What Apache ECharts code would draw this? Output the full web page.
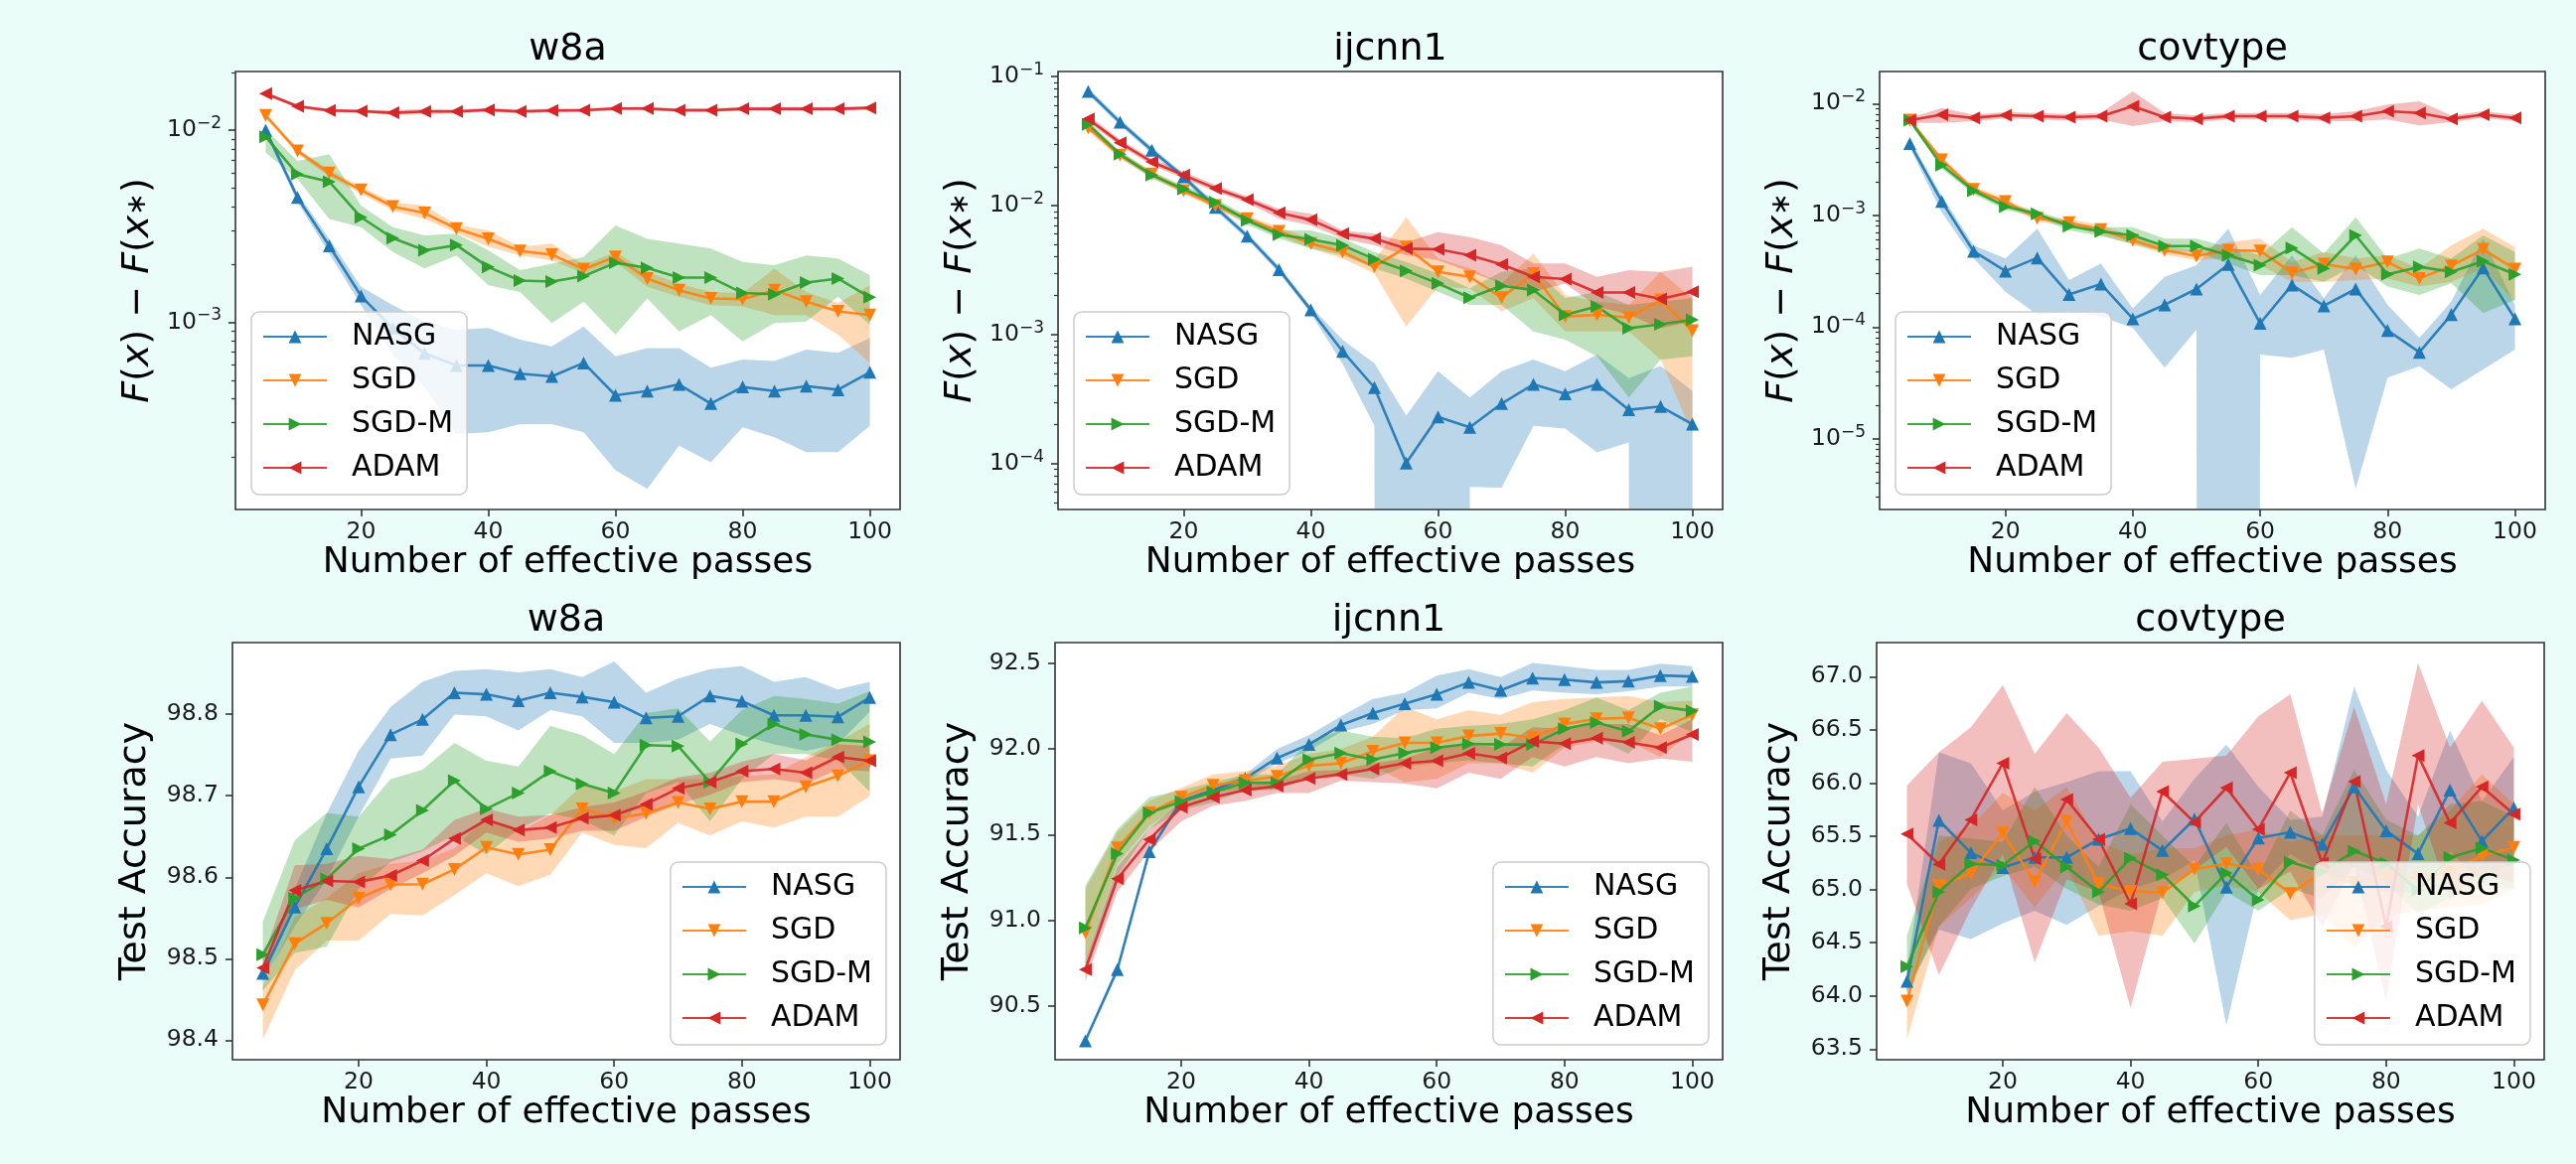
<!DOCTYPE html>
<html><head><meta charset="utf-8">
<script src="https://cdn.jsdelivr.net/npm/echarts@6/dist/echarts.min.js"></script>
<style>html,body{margin:0;padding:0;background:#eafdf8;}#c{width:2593px;height:1172px;}</style>
</head><body><div id="c"></div>
<script>
// ---------------- DATA ----------------
const passes = [5,10,15,20,25,30,35,40,45,50,55,60,65,70,75,80,85,90,95,100];
const methods = ['NASG','SGD','SGD-M','ADAM'];
const xTicks = [20,40,60,80,100];

// tick values (log panels: exponents of 10)
const w8aLossTicks = [-3,-2];
const ijcnn1LossTicks = [-4,-3,-2,-1];
const covtypeLossTicks = [-5,-4,-3,-2];
const w8aAccTicks = [98.4,98.5,98.6,98.7,98.8];
const ijcnn1AccTicks = [90.5,91.0,91.5,92.0,92.5];
const covtypeAccTicks = [63.5,64.0,64.5,65.0,65.5,66.0,66.5,67.0];

// ---- w8a: F(x)-F(x*) ----
const w8aLoss_NASG    = [0.0100,0.00447,0.0025,0.00137,0.00093,0.00069,0.000596,0.000596,0.00054,0.000523,0.000615,0.000417,0.000439,0.000475,0.000378,0.000461,0.000439,0.000466,0.000446,0.00055];
const w8aLoss_NASG_lo = [0.0096,0.00421,0.00228,0.00123,0.00068,0.000457,0.000262,0.000268,0.000295,0.000295,0.000268,0.00017,0.000136,0.000228,0.000187,0.000284,0.000252,0.000211,0.000211,0.000289];
const w8aLoss_NASG_hi = [0.0104,0.00471,0.00272,0.00153,0.00123,0.00101,0.000915,0.000933,0.000812,0.00075,0.000952,0.000666,0.000735,0.000735,0.00058,0.00064,0.000628,0.000721,0.000693,0.000829];
const w8aLoss_SGD     = [0.01191,0.0078,0.00597,0.00488,0.0040,0.0037,0.00307,0.00272,0.00235,0.00225,0.00189,0.00219,0.00169,0.00147,0.00133,0.00132,0.00147,0.00128,0.00114,0.00109];
const w8aLoss_SGD_lo  = [0.01163,0.00749,0.00574,0.00465,0.00382,0.00345,0.00292,0.00247,0.00223,0.0021,0.0018,0.00206,0.00153,0.00136,0.00123,0.00121,0.00109,0.00109,0.000862,0.000615];
const w8aLoss_SGD_hi  = [0.0122,0.0080,0.00621,0.00508,0.00421,0.00405,0.00322,0.00301,0.00247,0.00257,0.00198,0.00232,0.00183,0.00159,0.00144,0.00142,0.0019,0.00144,0.00126,0.00156];
const w8aLoss_SGDM    = [0.00924,0.0059,0.00539,0.00352,0.00274,0.00237,0.00252,0.00194,0.00165,0.00163,0.00174,0.00204,0.00192,0.00171,0.00171,0.00142,0.0014,0.00161,0.00169,0.00135];
const w8aLoss_SGDM_lo = [0.00764,0.00556,0.00345,0.00313,0.00232,0.00191,0.00223,0.00156,0.00144,0.00099,0.00128,0.000862,0.00133,0.000897,0.00109,0.000796,0.00099,0.00101,0.00136,0.00097];
const w8aLoss_SGDM_hi = [0.01008,0.00692,0.00749,0.00405,0.00313,0.00283,0.00289,0.00237,0.00187,0.00202,0.00219,0.00319,0.00272,0.00257,0.00242,0.00206,0.00198,0.00223,0.00215,0.00176];
const w8aLoss_ADAM    = [0.0155,0.0133,0.01265,0.01254,0.0123,0.0125,0.0125,0.01274,0.0125,0.01265,0.0127,0.01295,0.01295,0.0127,0.0127,0.0129,0.0129,0.0129,0.0129,0.01305];
const w8aLoss_ADAM_lo = [0.0152,0.0130,0.0124,0.0123,0.0120,0.0121,0.0122,0.0125,0.0122,0.0124,0.0124,0.0127,0.0127,0.0124,0.0124,0.0126,0.0126,0.0126,0.0126,0.0128];
const w8aLoss_ADAM_hi = [0.0158,0.0136,0.0129,0.0128,0.0127,0.0129,0.0128,0.0130,0.0128,0.0129,0.0130,0.0132,0.0132,0.0130,0.0130,0.0132,0.0132,0.0132,0.0132,0.0133];

// ---- ijcnn1: F(x)-F(x*) ----
const ijcnn1Loss_NASG    = [0.0767,0.0442,0.0268,0.0167,0.0097,0.0058,0.00319,0.00155,0.000742,0.000388,0.0001007,0.00023,0.000191,0.000292,0.000411,0.000348,0.000411,0.000261,0.000277,0.000202];
const ijcnn1Loss_NASG_lo = [0.0723,0.0417,0.0252,0.0157,0.00914,0.00547,0.00301,0.00146,0.00059,0.000196,0,0,0.000066,0.000065,0.000196,0.000187,0.000122,0.000146,0,0];
const ijcnn1Loss_NASG_hi = [0.0813,0.0469,0.0284,0.0177,0.01028,0.00615,0.00338,0.00165,0.00091,0.0006,0.000235,0.00052,0.000325,0.00052,0.00064,0.00052,0.0007,0.00046,0.00057,0.000365];
const ijcnn1Loss_SGD     = [0.0400,0.0245,0.0175,0.01302,0.00999,0.00788,0.0063,0.00506,0.00437,0.00335,0.00477,0.00306,0.0028,0.00193,0.00297,0.00138,0.00142,0.001356,0.00185,0.00107];
const ijcnn1Loss_SGD_lo  = [0.0377,0.0231,0.0165,0.01228,0.00941,0.00743,0.00587,0.00463,0.00388,0.00297,0.001156,0.00235,0.00228,0.00151,0.00191,0.001058,0.001058,0.001058,0.00064,0.00017];
const ijcnn1Loss_SGD_hi  = [0.0425,0.026,0.01857,0.01382,0.01059,0.00836,0.0068,0.00553,0.00477,0.00377,0.00812,0.00388,0.00325,0.00249,0.00424,0.00203,0.0018,0.0017,0.00306,0.00191];
const ijcnn1Loss_SGDM    = [0.0425,0.02495,0.01719,0.01341,0.01059,0.00766,0.00594,0.00547,0.00491,0.00384,0.00312,0.00249,0.00193,0.00239,0.00221,0.00142,0.00165,0.00112,0.0012,0.0013];
const ijcnn1Loss_SGDM_lo = [0.04,0.0235,0.0162,0.01265,0.00987,0.00709,0.00553,0.00463,0.00412,0.00325,0.00272,0.00215,0.0017,0.0017,0.001058,0.000912,0.000679,0.000325,0.00064,0.000679];
const ijcnn1Loss_SGDM_hi = [0.045,0.02647,0.01824,0.01423,0.01137,0.00826,0.00641,0.00641,0.00553,0.00437,0.00366,0.00297,0.00228,0.00306,0.00325,0.00191,0.00215,0.0017,0.0018,0.00191];
const ijcnn1Loss_ADAM    = [0.0469,0.0307,0.02178,0.01719,0.01358,0.0111,0.00877,0.00774,0.00604,0.00553,0.00463,0.00458,0.00412,0.00349,0.0028,0.00269,0.00212,0.00212,0.00189,0.00215];
const ijcnn1Loss_ADAM_lo = [0.0443,0.02893,0.0205,0.0162,0.0128,0.01047,0.00788,0.007,0.00553,0.00491,0.00412,0.00377,0.00306,0.00249,0.00215,0.00248,0.00165,0.00142,0.00112,0.00126];
const ijcnn1Loss_ADAM_hi = [0.0498,0.03255,0.0231,0.01824,0.0144,0.01178,0.00941,0.00861,0.00641,0.00604,0.00521,0.00622,0.0057,0.00491,0.00355,0.00355,0.0028,0.00315,0.00306,0.00335];

// ---- covtype: F(x)-F(x*) ----
const covtypeLoss_NASG    = [0.0044,0.001335,0.000477,0.000317,0.000416,0.000196,0.000243,0.0001185,0.000158,0.000219,0.000363,0.000108,0.000238,0.000155,0.000219,0.0000933,0.0000595,0.000129,0.000339,0.0001185];
const covtypeLoss_NASG_lo = [0.00403,0.001066,0.00041,0.000207,0.000129,0.000138,0.000124,0.000098,0.0000432,0.0000946,0,0.0000567,0.000053,0.0000628,0.00000358,0.0000352,0.0000447,0.0000277,0.0000417,0.0000628];
const covtypeLoss_NASG_hi = [0.00478,0.0015,0.000539,0.00041,0.000758,0.000263,0.00037,0.000147,0.000282,0.000358,0.000758,0.000194,0.000439,0.000181,0.000439,0.000158,0.0000798,0.000169,0.000618,0.000158];
const covtypeLoss_SGD     = [0.0071,0.00313,0.0017,0.001327,0.000943,0.000857,0.000743,0.000597,0.000486,0.000433,0.000486,0.00048,0.000306,0.000365,0.00033,0.000383,0.000272,0.000353,0.000496,0.00033];
const covtypeLoss_SGD_lo  = [0.00673,0.00293,0.00158,0.00124,0.00088,0.0008,0.00067,0.000546,0.000445,0.000396,0.00041,0.000358,0.000254,0.000254,0.000263,0.000272,0.00023,0.000254,0.000334,0.000169];
const covtypeLoss_SGD_hi  = [0.00745,0.00335,0.00181,0.00142,0.00101,0.000918,0.000823,0.000652,0.000531,0.000486,0.000577,0.000618,0.000383,0.00047,0.00041,0.000439,0.000334,0.000539,0.000758,0.000521];
const covtypeLoss_SGDM    = [0.0071,0.00281,0.00166,0.0012,0.00103,0.0008,0.000718,0.000661,0.000531,0.000531,0.000439,0.000358,0.00051,0.000334,0.000661,0.000296,0.000346,0.000312,0.000388,0.000296];
const covtypeLoss_SGDM_lo = [0.00673,0.00262,0.00155,0.00112,0.000962,0.000732,0.000652,0.000557,0.00047,0.00047,0.00037,0.000291,0.000291,0.000254,0.000358,0.00023,0.000194,0.000246,0.000133,0.000175];
const covtypeLoss_SGDM_hi = [0.00745,0.00301,0.00178,0.00128,0.0011,0.000868,0.000784,0.000784,0.000618,0.000618,0.000521,0.000439,0.000784,0.000454,0.000962,0.00041,0.000503,0.00041,0.000661,0.00047];
const covtypeLoss_ADAM    = [0.0071,0.00794,0.00745,0.00787,0.00771,0.00755,0.00771,0.00946,0.00755,0.0073,0.00771,0.00771,0.00771,0.00745,0.00771,0.00854,0.00825,0.0073,0.00794,0.00745];
const covtypeLoss_ADAM_lo = [0.00673,0.00673,0.00696,0.00735,0.0072,0.00706,0.0072,0.00628,0.00696,0.00682,0.0072,0.0072,0.0072,0.00696,0.00696,0.0072,0.00637,0.00682,0.00745,0.00696];
const covtypeLoss_ADAM_hi = [0.00745,0.00914,0.00794,0.00842,0.00825,0.00809,0.00825,0.01285,0.00825,0.00781,0.00825,0.00825,0.00825,0.00809,0.00854,0.00979,0.01048,0.00781,0.00854,0.00794];

// ---- w8a: Test Accuracy ----
const w8aAcc_NASG    = [98.482,98.5635,98.635,98.711,98.775,98.7937,98.8264,98.8245,98.8168,98.8264,98.8214,98.8149,98.7956,98.7975,98.8226,98.816,98.7987,98.7987,98.7968,98.8206];
const w8aAcc_NASG_lo = [98.4722,98.5396,98.5973,98.6743,98.7456,98.7494,98.7995,98.7975,98.7802,98.8052,98.7975,98.7648,98.7648,98.7687,98.7879,98.7744,98.7629,98.7552,98.7629,98.8033];
const w8aAcc_NASG_hi = [98.4895,98.5858,98.6782,98.7552,98.8091,98.8399,98.8533,98.8553,98.8514,98.8553,98.8457,98.8649,98.8264,98.8437,98.8553,98.8591,98.8399,98.8457,98.8303,98.8399];
const w8aAcc_SGD     = [98.4433,98.5184,98.5434,98.5742,98.5908,98.5915,98.6096,98.6366,98.6281,98.6339,98.6839,98.6724,98.6782,98.6917,98.6839,98.6928,98.6928,98.7109,98.7244,98.7429];
const w8aAcc_SGD_lo  = [98.401,98.4857,98.5223,98.5223,98.555,98.5531,98.5781,98.605,98.5889,98.6031,98.655,98.6397,98.6358,98.6666,98.6512,98.6686,98.6609,98.6743,98.6743,98.6994];
const w8aAcc_SGD_hi  = [98.4664,98.5511,98.5742,98.605,98.6166,98.6204,98.6358,98.6743,98.655,98.6762,98.7128,98.7051,98.7205,98.7205,98.7205,98.7244,98.7263,98.7475,98.7667,98.7879];
const w8aAcc_SGDM    = [98.5049,98.5742,98.598,98.635,98.652,98.682,98.7186,98.6839,98.7032,98.7302,98.7147,98.7032,98.7621,98.761,98.7167,98.7636,98.7879,98.7752,98.7687,98.766];
const w8aAcc_SGDM_lo = [98.4607,98.5069,98.5146,98.5858,98.6185,98.632,98.6512,98.6281,98.6589,98.6782,98.6705,98.6512,98.7032,98.7167,98.6686,98.7205,98.7513,98.7513,98.7436,98.7051];
const w8aAcc_SGDM_hi = [98.5454,98.6455,98.679,98.6743,98.7205,98.7321,98.7648,98.7429,98.7359,98.786,98.7744,98.7513,98.8014,98.8071,98.7667,98.8052,98.8226,98.8187,98.8129,98.8283];
const w8aAcc_ADAM    = [98.4888,98.5838,98.5954,98.5942,98.602,98.6204,98.6474,98.6705,98.6578,98.6609,98.6724,98.6762,98.6897,98.709,98.7167,98.7302,98.7329,98.7283,98.7475,98.7429];
const w8aAcc_ADAM_lo = [98.475,98.5608,98.5723,98.5627,98.5858,98.605,98.6262,98.655,98.6435,98.6474,98.657,98.657,98.6743,98.6897,98.7013,98.7167,98.7205,98.7148,98.7321,98.7302];
const w8aAcc_ADAM_hi = [98.500,98.6147,98.6166,98.6262,98.6224,98.6339,98.6705,98.684,98.6743,98.6762,98.6859,98.6917,98.7051,98.7225,98.7283,98.7417,98.7513,98.7436,98.7629,98.761];

// ---- ijcnn1: Test Accuracy ----
const ijcnn1Acc_NASG    = [90.294,90.7102,91.3994,91.6963,91.7605,91.8283,91.9475,92.0263,92.1399,92.2096,92.2646,92.3196,92.3892,92.3434,92.4149,92.4057,92.3892,92.3965,92.4295,92.424];
const ijcnn1Acc_NASG_lo = [90.2794,90.6955,91.3847,91.6817,91.7422,91.8063,91.9163,91.9896,92.0996,92.1454,92.2279,92.2371,92.3287,92.2921,92.3416,92.3287,92.3196,92.3379,92.3654,92.3654];
const ijcnn1Acc_NASG_hi = [90.3087,90.7248,91.414,91.711,91.7788,91.8521,91.9988,92.0813,92.1912,92.2921,92.3287,92.4295,92.4662,92.4204,92.5029,92.4845,92.4625,92.4625,92.4992,92.4845];
const ijcnn1Acc_SGD     = [90.9265,91.4214,91.6267,91.7183,91.788,91.8155,91.8393,91.9016,91.9163,91.986,92.0354,92.0354,92.0758,92.0904,92.0666,92.1454,92.1766,92.1821,92.1179,92.2004];
const ijcnn1Acc_SGD_lo  = [90.7615,91.3297,91.5497,91.678,91.7422,91.7697,91.7788,91.8247,91.843,91.898,91.8063,91.8247,91.9163,91.9163,91.8613,92.008,92.0446,92.0446,91.953,92.0996];
const ijcnn1Acc_SGD_hi  = [91.1831,91.513,91.6963,91.7733,91.8521,91.8705,91.9016,91.9713,91.9988,92.0721,92.2462,92.1729,92.2279,92.2004,92.2737,92.292,92.3012,92.3104,92.2737,92.2829];
const ijcnn1Acc_SGDM    = [90.954,91.3884,91.6267,91.6927,91.7477,91.8027,91.8027,91.9383,91.9768,91.9383,91.9768,92.008,92.03,92.0263,92.0263,92.1179,92.1546,92.1033,92.2499,92.2224];
const ijcnn1Acc_SGDM_lo = [90.7065,91.2564,91.5314,91.6413,91.6872,91.7605,91.7605,91.843,91.8521,91.8247,91.898,91.9163,91.9347,91.9163,91.898,92.0263,92.0629,91.9713,92.1729,92.0996];
const ijcnn1Acc_SGDM_hi = [91.2015,91.5314,91.7183,91.7605,91.8063,91.8521,91.8521,92.0446,92.1088,92.0721,92.0629,92.1179,92.1363,92.1454,92.1729,92.2279,92.3012,92.2279,92.3287,92.3654];
const ijcnn1Acc_ADAM    = [90.7102,91.2417,91.4709,91.6597,91.7183,91.7605,91.7825,91.8283,91.8521,91.8833,91.9163,91.931,91.975,91.9475,92.0446,92.0318,92.063,92.0391,92.008,92.085];
const ijcnn1Acc_ADAM_lo = [90.6424,91.1648,91.403,91.5772,91.6688,91.6963,91.7422,91.7422,91.8155,91.8063,91.7972,91.7697,91.8613,91.8247,91.953,91.898,91.953,91.9163,91.9438,91.9255];
const ijcnn1Acc_ADAM_hi = [90.7615,91.3114,91.5314,91.6963,91.7513,91.788,91.8155,91.8705,91.8796,91.9163,91.9438,92.008,92.0263,92.008,92.1271,92.1179,92.1454,92.1454,92.0813,92.1729];

// ---- covtype: Test Accuracy ----
const covtypeAcc_NASG    = [64.137,65.649,65.345,65.207,65.301,65.301,65.472,65.572,65.366,65.661,65.021,65.484,65.537,65.425,65.964,65.552,65.336,65.935,65.454,65.767];
const covtypeAcc_NASG_lo = [64.034,64.623,64.535,64.682,64.8,64.667,64.844,65.006,65.095,65.272,63.724,65.006,65.331,65.154,65.021,64.977,64.977,65.36,65.065,65.272];
const covtypeAcc_NASG_hi = [64.24,66.288,66.185,65.743,65.92,66.008,66.112,66.112,65.64,66.038,66.362,65.964,65.655,65.684,66.907,66.126,65.684,66.495,65.832,66.244];
const covtypeAcc_SGD     = [63.951,65.036,65.148,65.531,65.071,65.64,65.051,64.983,64.971,65.189,65.242,65.189,64.962,65.16,65.065,65.124,65.109,65.168,65.316,65.395];
const covtypeAcc_SGD_lo  = [63.592,64.653,64.918,65.213,64.83,65.213,64.564,64.608,64.564,64.977,65.036,64.977,64.712,64.77,64.446,64.741,64.8,64.83,64.859,65.006];
const covtypeAcc_SGD_hi  = [64.24,65.448,65.596,65.905,65.743,65.964,65.448,65.33,65.389,65.389,65.507,65.566,65.448,65.507,65.507,65.507,65.507,65.743,66.082,65.802];
const covtypeAcc_SGDM    = [64.275,64.977,65.242,65.227,65.454,65.213,64.977,65.295,65.139,64.844,65.154,64.903,65.257,65.168,65.36,65.248,64.992,65.301,65.389,65.277];
const covtypeAcc_SGDM_lo = [64.034,64.653,65.006,65.124,65.213,65.006,64.859,64.8,64.918,64.491,64.977,64.8,65.006,64.918,65.213,65.065,64.77,64.918,65.036,65.006];
const covtypeAcc_SGDM_hi = [64.564,65.507,65.478,65.448,65.964,65.507,65.213,65.802,65.507,65.213,65.625,65.124,65.743,65.507,66.126,65.655,65.507,65.802,65.832,65.684];
const covtypeAcc_ADAM    = [65.522,65.236,65.655,66.185,65.287,65.846,65.472,64.865,65.92,65.631,65.955,65.566,66.097,65.248,66.014,64.653,66.259,65.625,65.964,65.708];
const covtypeAcc_ADAM_lo = [65.051,64.196,64.815,65.33,64.314,65.095,64.977,63.886,65.006,65.183,65.4,65.006,65.168,64.653,65.242,63.945,65.802,64.918,65.154,65.065];
const covtypeAcc_ADAM_hi = [65.979,66.288,66.524,66.922,66.274,66.657,66.333,65.861,66.2,66.229,66.259,66.627,66.834,65.714,66.716,65.802,67.128,66.333,66.775,66.333];

// ---------------- LAYOUT / STYLE ----------------
const colors = {'NASG':'#1f77b4','SGD':'#ff7f0e','SGD-M':'#2ca02c','ADAM':'#d62728'};
const rotations = {'NASG':0,'SGD':180,'SGD-M':-90,'ADAM':90};
const FONT = 'DejaVu Sans';
const INK = '#1a1a1a';
const AXC = '#333333';
const W = 2593, H = 1172;

const panels = [
  {title:'w8a', left:237, top:72, width:669, height:441, log:true, lo:-3.974, hi:-1.695, ticks:w8aLossTicks, legend:'ll',
   d:{'NASG':[w8aLoss_NASG,w8aLoss_NASG_lo,w8aLoss_NASG_hi],'SGD':[w8aLoss_SGD,w8aLoss_SGD_lo,w8aLoss_SGD_hi],'SGD-M':[w8aLoss_SGDM,w8aLoss_SGDM_lo,w8aLoss_SGDM_hi],'ADAM':[w8aLoss_ADAM,w8aLoss_ADAM_lo,w8aLoss_ADAM_hi]}},
  {title:'ijcnn1', left:1065, top:72, width:669, height:441, log:true, lo:-4.356, hi:-0.9615, ticks:ijcnn1LossTicks, legend:'ll',
   d:{'NASG':[ijcnn1Loss_NASG,ijcnn1Loss_NASG_lo,ijcnn1Loss_NASG_hi],'SGD':[ijcnn1Loss_SGD,ijcnn1Loss_SGD_lo,ijcnn1Loss_SGD_hi],'SGD-M':[ijcnn1Loss_SGDM,ijcnn1Loss_SGDM_lo,ijcnn1Loss_SGDM_hi],'ADAM':[ijcnn1Loss_ADAM,ijcnn1Loss_ADAM_lo,ijcnn1Loss_ADAM_hi]}},
  {title:'covtype', left:1892, top:72, width:670, height:441, log:true, lo:-5.633, hi:-1.713, ticks:covtypeLossTicks, legend:'ll',
   d:{'NASG':[covtypeLoss_NASG,covtypeLoss_NASG_lo,covtypeLoss_NASG_hi],'SGD':[covtypeLoss_SGD,covtypeLoss_SGD_lo,covtypeLoss_SGD_hi],'SGD-M':[covtypeLoss_SGDM,covtypeLoss_SGDM_lo,covtypeLoss_SGDM_hi],'ADAM':[covtypeLoss_ADAM,covtypeLoss_ADAM_lo,covtypeLoss_ADAM_hi]}},
  {title:'w8a', left:234, top:647, width:672, height:420, log:false, lo:98.376, hi:98.888, ticks:w8aAccTicks, legend:'lr',
   d:{'NASG':[w8aAcc_NASG,w8aAcc_NASG_lo,w8aAcc_NASG_hi],'SGD':[w8aAcc_SGD,w8aAcc_SGD_lo,w8aAcc_SGD_hi],'SGD-M':[w8aAcc_SGDM,w8aAcc_SGDM_lo,w8aAcc_SGDM_hi],'ADAM':[w8aAcc_ADAM,w8aAcc_ADAM_lo,w8aAcc_ADAM_hi]}},
  {title:'ijcnn1', left:1062, top:647, width:672, height:420, log:false, lo:90.184, hi:92.622, ticks:ijcnn1AccTicks, legend:'lr',
   d:{'NASG':[ijcnn1Acc_NASG,ijcnn1Acc_NASG_lo,ijcnn1Acc_NASG_hi],'SGD':[ijcnn1Acc_SGD,ijcnn1Acc_SGD_lo,ijcnn1Acc_SGD_hi],'SGD-M':[ijcnn1Acc_SGDM,ijcnn1Acc_SGDM_lo,ijcnn1Acc_SGDM_hi],'ADAM':[ijcnn1Acc_ADAM,ijcnn1Acc_ADAM_lo,ijcnn1Acc_ADAM_hi]}},
  {title:'covtype', left:1889, top:647, width:672, height:420, log:false, lo:63.40, hi:67.32, ticks:covtypeAccTicks, legend:'lr',
   d:{'NASG':[covtypeAcc_NASG,covtypeAcc_NASG_lo,covtypeAcc_NASG_hi],'SGD':[covtypeAcc_SGD,covtypeAcc_SGD_lo,covtypeAcc_SGD_hi],'SGD-M':[covtypeAcc_SGDM,covtypeAcc_SGDM_lo,covtypeAcc_SGDM_hi],'ADAM':[covtypeAcc_ADAM,covtypeAcc_ADAM_lo,covtypeAcc_ADAM_hi]}}
];

function rgba(hex, a){
  const n = parseInt(hex.slice(1),16);
  return 'rgba(' + ((n>>16)&255) + ',' + ((n>>8)&255) + ',' + (n&255) + ',' + a + ')';
}
// minor tick positions (exponents) for log decorations
function minorExps(lo, hi){
  const out = [];
  for (let e = Math.floor(lo); e <= Math.ceil(hi); e++) {
    for (let k = 2; k <= 9; k++) { const v = e + Math.log10(k); if (v > lo && v < hi) out.push(v); }
  }
  return out;
}

const lossName = '{i|F}{n|(}{i|x}{n|) − }{i|F}{n|(}{i|x}{s|∗}{n|)}';
const lossRich = {
  i:{fontSize:38, fontFamily:FONT, fontStyle:'italic', color:'#000', lineHeight:46},
  n:{fontSize:38, fontFamily:FONT, color:'#000', lineHeight:46},
  s:{fontSize:27, fontFamily:FONT, color:'#000', lineHeight:46}
};

const grids=[], xAxes=[], yAxes=[], series=[], legends=[], texts=[];

panels.forEach((p, gi) => {
  grids.push({left:p.left, top:p.top, width:p.width, height:p.height, show:true,
    backgroundColor:'#ffffff', borderColor:AXC, borderWidth:1.6, containLabel:false, outerBoundsMode:'none'});

  xAxes.push({type:'value', gridIndex:gi, min:0.25, max:104.75,
    splitLine:{show:false}, axisLine:{show:false},
    axisTick:{show:true, length:7, lineStyle:{color:AXC, width:1.6}, customValues:xTicks},
    axisLabel:{customValues:xTicks, fontSize:23.5, fontFamily:FONT, color:INK, margin:11},
    name:'Number of effective passes', nameLocation:'middle', nameGap:36,
    nameTextStyle:{fontSize:36, fontFamily:FONT, color:'#000'}});

  let dataAxis;
  if (p.log) {
    dataAxis = yAxes.length;
    yAxes.push({type:'log', logBase:10, gridIndex:gi, position:'left',
      min:Math.pow(10,p.lo), max:Math.pow(10,p.hi),
      axisLine:{show:false}, axisTick:{show:false}, axisLabel:{show:false}, splitLine:{show:false},
      name:lossName, nameLocation:'middle', nameGap:75, nameRotate:90,
      nameTextStyle:{rich:lossRich}});
    // major ticks + labels (exponent scale, same pixel span)
    yAxes.push({type:'value', gridIndex:gi, position:'left', min:p.lo, max:p.hi,
      axisLine:{show:false}, splitLine:{show:false},
      axisTick:{show:true, length:7, lineStyle:{color:AXC, width:1.6}, customValues:p.ticks},
      axisLabel:{customValues:p.ticks, margin:14,
        formatter:v => '{b|10}{s|−' + Math.round(Math.abs(v)) + '}',
        rich:{b:{fontSize:23.5, fontFamily:FONT, color:INK, lineHeight:30},
              s:{fontSize:17, fontFamily:FONT, color:INK, lineHeight:17, verticalAlign:'top'}}}});
    // minor ticks
    const mins = minorExps(p.lo, p.hi);
    yAxes.push({type:'value', gridIndex:gi, position:'left', min:p.lo, max:p.hi,
      axisLine:{show:false}, splitLine:{show:false},
      axisTick:{show:true, length:4, lineStyle:{color:AXC, width:1.2}, customValues:mins},
      axisLabel:{show:false, customValues:mins}});
  } else {
    dataAxis = yAxes.length;
    yAxes.push({type:'value', gridIndex:gi, position:'left', min:p.lo, max:p.hi,
      axisLine:{show:false}, splitLine:{show:false},
      axisTick:{show:true, length:7, lineStyle:{color:AXC, width:1.6}, customValues:p.ticks},
      axisLabel:{customValues:p.ticks, margin:14, fontSize:23.5, fontFamily:FONT, color:INK,
        formatter:v => v.toFixed(1)},
      name:'Test Accuracy', nameLocation:'middle', nameGap:79, nameRotate:90,
      nameTextStyle:{fontSize:38, fontFamily:FONT, color:'#000'}});
  }

  // shaded bands (drawn below all lines)
  methods.forEach(m => {
    const lo = p.d[m][1], hi = p.d[m][2], col = colors[m], isLog = p.log;
    series.push({type:'custom', name:m + ' band', xAxisIndex:gi, yAxisIndex:dataAxis, z:1, silent:true, clip:true,
      animation:false,
      data:passes.map((x,j) => [x, lo[j], hi[j]]),
      renderItem:(params, api) => {
        if (params.dataIndex !== 0) return null;
        const cs = params.coordSys;
        const pt = (x, v) => {
          if (isLog && !(v > 0)) { const q = api.coord([x, hi[0]]); return [q[0], cs.y + cs.height + 20000]; }
          return api.coord([x, v]);
        };
        const up = passes.map((x,j) => pt(x, hi[j]));
        const dn = passes.map((x,j) => pt(x, lo[j])).reverse();
        return {type:'polygon', shape:{points:up.concat(dn)}, style:{fill:rgba(col,0.3)}};
      }});
  });
  // mean lines with triangle markers
  methods.forEach(m => {
    const mean = p.d[m][0], col = colors[m];
    series.push({type:'line', name:m, xAxisIndex:gi, yAxisIndex:dataAxis, z:2,
      data:passes.map((x,j) => [x, mean[j]]),
      symbol:'triangle', symbolSize:13, symbolRotate:rotations[m], showSymbol:true,
      lineStyle:{color:col, width:2.6, opacity:0.9}, itemStyle:{color:col},
      emphasis:{disabled:true}, animation:false});
  });

  const lg = {orient:'vertical', data:methods, selectedMode:false,
    itemWidth:64, itemHeight:16, itemGap:14, padding:[10,14,12,11],
    backgroundColor:'rgba(255,255,255,0.8)', borderColor:'#cccccc', borderWidth:1.5, borderRadius:8,
    textStyle:{fontSize:30, fontFamily:FONT, color:'#000', padding:[0,0,0,20]}};
  if (p.legend === 'll') { lg.left = p.left + 16; lg.bottom = H - (p.top + p.height - 15); }
  else { lg.right = W - (p.left + p.width - 14); lg.bottom = H - (p.top + p.height - 15); }
  legends.push(lg);

  texts.push({type:'text', x:p.left + p.width/2, y:p.top - 3, silent:true,
    style:{text:p.title, fontSize:38, fontFamily:FONT, fill:'#000',
      align:'center', verticalAlign:'bottom', textAlign:'center', textVerticalAlign:'bottom'}});
});

const chart = echarts.init(document.getElementById('c'), null, {renderer:'canvas', width:W, height:H});
chart.setOption({
  backgroundColor:'#eafdf8',
  animation:false,
  textStyle:{fontFamily:FONT},
  grid:grids, xAxis:xAxes, yAxis:yAxes, series:series, legend:legends,
  graphic:{elements:texts}
});
</script>
</body></html>
